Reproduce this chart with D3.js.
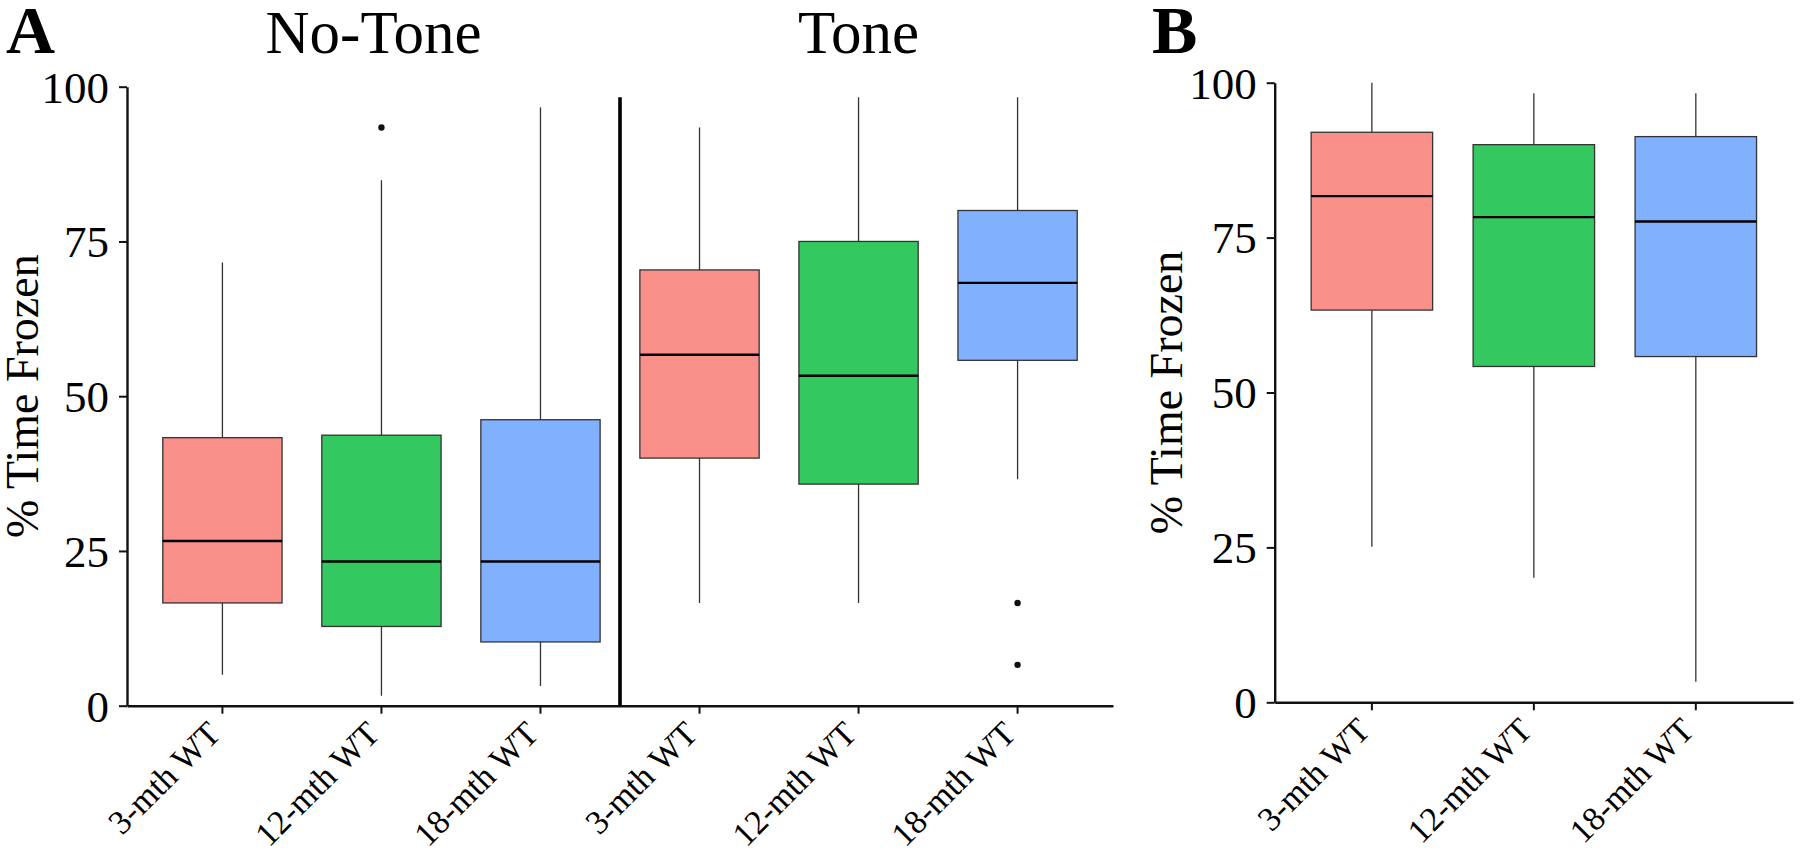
<!DOCTYPE html>
<html>
<head>
<meta charset="utf-8">
<script src="https://cdn.jsdelivr.net/npm/d3@7"></script>
<style>
  body { margin: 0; background: #fff; }
  svg { display: block; font-family: "Liberation Serif", "Times New Roman", serif; }
</style>
</head>
<body>
<div id="chart"></div>
<script>
// groups and box stats: [low whisker, q1, median, q3, high whisker]
const groups = ["3-mth WT", "12-mth WT", "18-mth WT"];
const conditions = ["No-Tone", "Tone"];
const groupColors = ["#F9918A", "#33C860", "#81B0FF"];
const yTicks = [0, 25, 50, 75, 100];

const noToneBoxes = [
  [5.0, 16.6, 26.6, 43.3, 71.6],
  [1.6, 12.8, 23.3, 43.7, 84.9],
  [3.2, 10.3, 23.3, 46.2, 96.7]
];
const toneBoxes = [
  [16.6, 40.0, 56.7, 70.4, 93.4],
  [16.6, 35.8, 53.3, 75.0, 98.3],
  [36.6, 55.8, 68.3, 80.0, 98.3]
];
const noToneOutliers = [[], [93.4], []];
const toneOutliers = [[], [], [16.6, 6.6]];

const panelBBoxes = [
  [25.1, 63.3, 81.7, 92.0, 100],
  [20.1, 54.2, 78.3, 90.0, 98.3],
  [3.3, 55.8, 77.6, 91.3, 98.3]
];
const panelBOutliers = [[], [], []];

const width = 1800, height = 852;
const svg = d3.select("#chart").append("svg")
  .attr("width", width)
  .attr("height", height);

function drawPanel(opts) {
  let x = d3.scaleBand()
    .domain(opts.keys)
    .range([opts.left, opts.right])
    .paddingInner(0.25)
    .paddingOuter(0.225);
  let y = d3.scaleLinear().domain([0, 100]).range([opts.bottom, opts.top]);
  let g = svg.append("g");

  let boxes = g.selectAll(".box")
    .data(opts.boxes)
    .enter()
    .append("g")
    .attr("class", "box");

  // whiskers
  boxes.append("line")
    .attr("x1", (d, i) => x(opts.keys[i]) + x.bandwidth() / 2)
    .attr("x2", (d, i) => x(opts.keys[i]) + x.bandwidth() / 2)
    .attr("y1", d => y(d[0]))
    .attr("y2", d => y(d[4]))
    .attr("stroke", "#333")
    .attr("stroke-width", 1.3);

  boxes.append("rect")
    .attr("x", (d, i) => x(opts.keys[i]))
    .attr("width", x.bandwidth())
    .attr("y", d => y(d[3]))
    .attr("height", d => y(d[1]) - y(d[3]))
    .attr("fill", (d, i) => groupColors[i % 3])
    .attr("stroke", "#333")
    .attr("stroke-width", 1.3);

  boxes.append("line")
    .attr("x1", (d, i) => x(opts.keys[i]))
    .attr("x2", (d, i) => x(opts.keys[i]) + x.bandwidth())
    .attr("y1", d => y(d[2]))
    .attr("y2", d => y(d[2]))
    .attr("stroke", "#000")
    .attr("stroke-width", 2.4);

  opts.outliers.forEach(function (pts, i) {
    g.selectAll(null)
      .data(pts)
      .enter()
      .append("circle")
      .attr("cx", x(opts.keys[i]) + x.bandwidth() / 2)
      .attr("cy", d => y(d))
      .attr("r", 3.2)
      .attr("fill", "#111");
  });

  // y axis
  let yAxis = d3.axisLeft(y).tickValues(yTicks).tickSize(8).tickSizeOuter(0).tickPadding(10);
  let ya = g.append("g")
    .attr("transform", `translate(${opts.left},0)`)
    .call(yAxis);
  ya.select(".domain").attr("stroke", "#111").attr("stroke-width", 2.4);
  ya.selectAll(".tick line").attr("stroke", "#111").attr("stroke-width", 2);
  ya.selectAll("text")
    .attr("font-size", 45)
    .attr("fill", "#000")
    .attr("dy", "0.34em")
    .style("font-family", "Liberation Serif");

  // x axis
  let xAxis = d3.axisBottom(x).tickSize(8).tickSizeOuter(0).tickFormat((d, i) => groups[i % 3]);
  let xa = g.append("g")
    .attr("transform", `translate(0,${opts.bottom})`)
    .call(xAxis);
  xa.select(".domain").attr("stroke", "#111").attr("stroke-width", 2.4);
  xa.selectAll(".tick line").attr("stroke", "#111").attr("stroke-width", 2);
  xa.selectAll("text")
    .attr("font-size", 34)
    .attr("fill", "#000")
    .attr("y", 0)
    .attr("dy", 0)
    .attr("transform", "translate(0,30) rotate(-45)")
    .style("text-anchor", "end")
    .style("font-family", "Liberation Serif");

  // y title
  g.append("text")
    .attr("transform", `translate(${opts.titleX},${(opts.top + opts.bottom) / 2}) rotate(-90)`)
    .attr("text-anchor", "middle")
    .attr("font-size", 46)
    .text("% Time Frozen");

  return { x: x, y: y, g: g };
}

// Panel A: No-Tone and Tone side by side
let keysA = [];
conditions.forEach(c => groups.forEach(gr => keysA.push(c + "|" + gr)));
let panelA = drawPanel({
  keys: keysA,
  boxes: noToneBoxes.concat(toneBoxes),
  outliers: noToneOutliers.concat(toneOutliers),
  left: 127, right: 1113, top: 86.7, bottom: 705.7,
  titleX: 38
});

// divider between the two conditions
let xA = panelA.x;
let divX = (xA(keysA[2]) + xA(keysA[3]) + xA.bandwidth()) / 2;
panelA.g.append("line")
  .attr("x1", divX).attr("x2", divX)
  .attr("y1", panelA.y(98.3)).attr("y2", panelA.y(0))
  .attr("stroke", "#000")
  .attr("stroke-width", 3.6);

// condition titles
panelA.g.append("text")
  .attr("x", (127 + divX) / 2)
  .attr("y", 53)
  .attr("text-anchor", "middle")
  .attr("font-size", 61)
  .text(conditions[0]);
panelA.g.append("text")
  .attr("x", xA(keysA[4]) + xA.bandwidth() / 2)
  .attr("y", 53)
  .attr("text-anchor", "middle")
  .attr("font-size", 61)
  .text(conditions[1]);

// Panel B
let keysB = groups.slice();
drawPanel({
  keys: keysB,
  boxes: panelBBoxes,
  outliers: panelBOutliers,
  left: 1274.7, right: 1793, top: 82.7, bottom: 702.3,
  titleX: 1182
});

// panel letters
svg.append("text").attr("x", 6).attr("y", 53)
  .attr("font-size", 68).attr("font-weight", "bold").text("A");
svg.append("text").attr("x", 1152).attr("y", 53)
  .attr("font-size", 68).attr("font-weight", "bold").text("B");
</script>
</body>
</html>
